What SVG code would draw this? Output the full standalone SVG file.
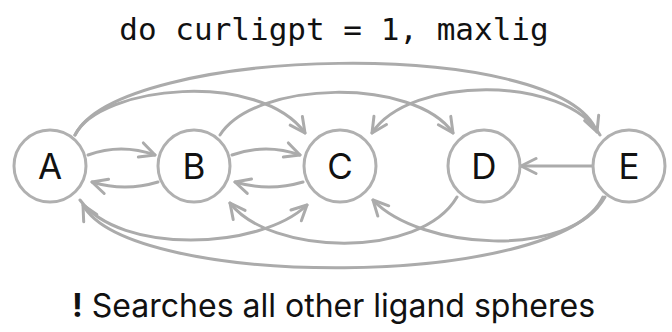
<svg xmlns="http://www.w3.org/2000/svg" width="672" height="332" viewBox="0 0 672 332">
  <style>
    .edge { fill: none; stroke: #ababab; stroke-width: 3; stroke-linecap: round; }
    .node circle { fill: #ffffff; stroke: #b0b0b0; stroke-width: 3; }
    .node text { font-family: Inter, "Noto Sans", sans-serif; font-size: 35px; fill: #111111; text-anchor: middle; }
    .title { font-family: "DejaVu Sans Mono", monospace; font-size: 31px; fill: #111111; text-anchor: middle; }
    .caption { font-family: Inter, "Noto Sans", sans-serif; font-size: 32px; fill: #111111; }
  </style>
  <defs>
    <marker id="arrow" markerUnits="userSpaceOnUse" viewBox="-18 -10 20 20" refX="0" refY="0" markerWidth="20" markerHeight="20" orient="auto">
      <path d="M-15,-7.5 L0,0 L-15,7.5" fill="none" stroke="#ababab" stroke-width="3" stroke-linecap="round" stroke-linejoin="round"/>
    </marker>
  </defs>
  <rect width="672" height="332" fill="#ffffff"/>
  <text class="title" x="334" y="40">do curligpt = 1, maxlig</text>

  <g id="connectors">
    <path class="edge" d="M75,135 C120,45 560,35 597,132" marker-end="url(#arrow)"/>
    <path class="edge" d="M75,135 C100,85 260,70 305,133" marker-end="url(#arrow)"/>
    <path class="edge" d="M220,135 C255,80 415,77 453,133" marker-end="url(#arrow)"/>
    <path class="edge" d="M600,135 C565,75 410,75 372,133" marker-end="url(#arrow)"/>
    <path class="edge" d="M603,197 C560,290 130,290 83,205" marker-end="url(#arrow)"/>
    <path class="edge" d="M80,200 C120,255 260,250 307,205" marker-end="url(#arrow)"/>
    <path class="edge" d="M457,197 C420,260 270,255 230,203" marker-end="url(#arrow)"/>
    <path class="edge" d="M605,197 C570,260 420,250 373,200" marker-end="url(#arrow)"/>
    <path class="edge" d="M88,155 Q121,143 155,155" marker-end="url(#arrow)"/>
    <path class="edge" d="M158,182 Q125,192 92,182" marker-end="url(#arrow)"/>
    <path class="edge" d="M232,155 Q266,143 300,155" marker-end="url(#arrow)"/>
    <path class="edge" d="M303,182 Q269,192 235,182" marker-end="url(#arrow)"/>
    <path class="edge" d="M593,166 L521,166" marker-end="url(#arrow)"/>
  </g>

  <g id="node-A" class="node"><circle cx="50" cy="166" r="36"/><text x="50" y="179">A</text></g>
  <g id="node-B" class="node"><circle cx="194" cy="166" r="36"/><text x="194" y="179">B</text></g>
  <g id="node-C" class="node"><circle cx="340" cy="166" r="36"/><text x="340" y="179">C</text></g>
  <g id="node-D" class="node"><circle cx="484" cy="166" r="36"/><text x="484" y="179">D</text></g>
  <g id="node-E" class="node"><circle cx="629" cy="166" r="36"/><text x="629" y="179">E</text></g>

  <text class="caption" x="72" y="317"><tspan font-weight="bold">!</tspan> Searches all other ligand spheres</text>
</svg>
